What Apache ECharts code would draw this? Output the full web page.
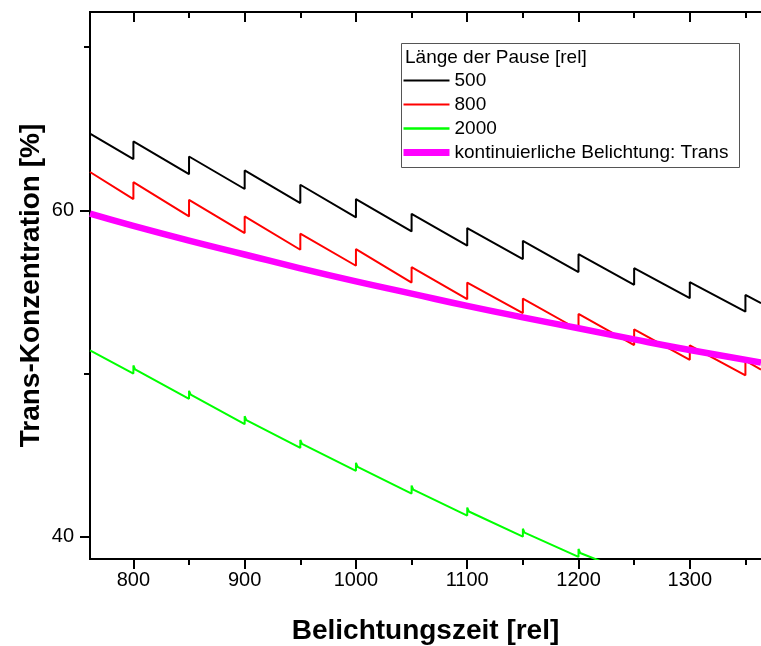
<!DOCTYPE html>
<html><head><meta charset="utf-8">
<script src="https://cdn.jsdelivr.net/npm/echarts@6/dist/echarts.min.js"></script>
<style>html,body{margin:0;padding:0;background:#fff}#c{width:761px;height:646px}</style>
</head><body><div id="c"></div>
<script>
// ---- data ----
const xStart = 761, xEnd = 1364;
const xMajorTicks = [800, 900, 1000, 1100, 1200, 1300];
const xMinorTicks = [850, 950, 1050, 1150, 1250, 1350];
const yMajorTicks = [40, 60];
const yMinorTicks = [50, 70];
const pauseX = [800, 850, 900, 950, 1000, 1050, 1100, 1150, 1200, 1250, 1300, 1350];

const black500Start = 64.70;
const black500Before = [63.14, 62.22, 61.31, 60.45, 59.57, 58.71, 57.84, 57.02, 56.22, 55.44, 54.62, 53.80];
const black500After  = [64.22, 63.30, 62.45, 61.57, 60.69, 59.79, 58.92, 58.14, 57.32, 56.46, 55.60, 54.82];
const black500End = 54.32;

const red800Start = 62.35;
const red800Before = [60.69, 59.63, 58.61, 57.59, 56.61, 55.58, 54.56, 53.71, 52.69, 51.75, 50.85, 49.90];
const red800After  = [61.73, 60.65, 59.63, 58.57, 57.63, 56.52, 55.58, 54.60, 53.66, 52.72, 51.74, 50.80];
const red800End = 50.25;

const green2000Start = 51.42;
const green2000X      = [800, 850, 900, 950, 1000, 1050, 1100, 1150, 1200];
const green2000Before = [50.01, 48.46, 46.91, 45.45, 44.05, 42.66, 41.31, 40.02, 38.78];
const green2000Peak   = [50.50, 48.95, 47.40, 45.94, 44.54, 43.15, 41.80, 40.51, 39.27];
const green2000After  = [50.26, 48.71, 47.15, 45.70, 44.29, 42.90, 41.56, 40.27, 39.02];
const green2000EndX = 1250, green2000End = 37.70;

const contX = [761, 800, 850, 900, 950, 1000, 1050, 1100, 1150, 1200, 1250, 1300, 1364];
const contY = [59.80, 59.05, 58.15, 57.30, 56.45, 55.65, 54.90, 54.15, 53.45, 52.78, 52.10, 51.45, 50.68];

const seriesNames = ['500', '800', '2000', 'kontinuierliche Belichtung: Trans'];
const legendTitle = 'Länge der Pause [rel]';
const xTitle = 'Belichtungszeit [rel]';
const yTitle = 'Trans-Konzentration [%]';

// ---- build series point lists ----
function sawtooth(start, before, after, end) {
  const pts = [[xStart, start]];
  pauseX.forEach((x, i) => { pts.push([x, before[i]]); pts.push([x, after[i]]); });
  pts.push([xEnd, end]);
  return pts;
}
const blackData = sawtooth(black500Start, black500Before, black500After, black500End);
const redData = sawtooth(red800Start, red800Before, red800After, red800End);
const greenData = [[xStart, green2000Start]];
green2000X.forEach((x, i) => {
  greenData.push([x, green2000Before[i]]);
  greenData.push([x, green2000Peak[i]]);
  greenData.push([x + 1.5, green2000After[i]]);
});
greenData.push([green2000EndX, green2000End]);
const contData = contX.map((x, i) => [x, contY[i]]);

const FONT = 'Liberation Sans, Arial, sans-serif';
const axisLine = { show: true, lineStyle: { color: '#000', width: 2 } };
const plain = v => String(v);

function xAx(pos, ticks, len, inside, labels, extra) {
  return Object.assign({
    type: 'value', position: pos, min: xStart, max: xEnd,
    axisLine: axisLine,
    axisTick: { show: true, inside: inside, length: len, customValues: ticks, lineStyle: { color: '#000', width: 2 } },
    axisLabel: labels ? { show: true, customValues: ticks, formatter: plain, fontSize: 20, color: '#000', fontFamily: FONT, margin: 11 } : { show: false },
    splitLine: { show: false }
  }, extra || {});
}
function yAx(ticks, len, labels, extra) {
  return Object.assign({
    type: 'value', position: 'left', min: 38.65, max: 72.15,
    axisLine: axisLine,
    axisTick: { show: true, inside: false, length: len, customValues: ticks, lineStyle: { color: '#000', width: 2 } },
    axisLabel: labels ? { show: true, customValues: ticks, formatter: plain, fontSize: 20, color: '#000', fontFamily: FONT, margin: 16 } : { show: false },
    splitLine: { show: false }
  }, extra || {});
}

const legendLines = [
  { name: seriesNames[0], lineStyle: { color: '#000', width: 2 } },
  { name: seriesNames[1], lineStyle: { color: '#ff0000', width: 2 } },
  { name: seriesNames[2], lineStyle: { color: '#00ff00', width: 2.5 } },
  { name: seriesNames[3], lineStyle: { color: '#ff00ff', width: 7 } }
];

const chart = echarts.init(document.getElementById('c'), null, { renderer: 'canvas' });
chart.setOption({
  animation: false,
  backgroundColor: '#fff',
  grid: { left: 90, right: 0, top: 12, bottom: 87, containLabel: false, outerBoundsMode: 'none' },
  xAxis: [
    xAx('bottom', xMajorTicks, 10, false, true, {
      name: xTitle, nameLocation: 'middle', nameGap: 58, nameMoveOverlap: false,
      nameTextStyle: { fontSize: 28, fontWeight: 'bold', color: '#000', fontFamily: FONT }
    }),
    xAx('bottom', xMinorTicks, 6, false, false),
    xAx('top', xMajorTicks, 10, true, false),
    xAx('top', xMinorTicks, 6, true, false)
  ],
  yAxis: [
    yAx(yMajorTicks, 10, true, {
      name: yTitle, nameLocation: 'middle', nameGap: 45, nameRotate: 90, nameMoveOverlap: false,
      nameTextStyle: { fontSize: 28, fontWeight: 'bold', color: '#000', fontFamily: FONT }
    }),
    yAx(yMinorTicks, 6, false)
  ],
  legend: {
    data: legendLines,
    orient: 'vertical', left: 400, top: 71, padding: 0,
    itemWidth: 46, itemHeight: 14, itemGap: 5,
    itemStyle: { color: 'rgba(0,0,0,0)', borderWidth: 0, opacity: 0 },
    textStyle: { fontSize: 19, lineHeight: 19, color: '#000', fontFamily: FONT },
    selectedMode: false
  },
  graphic: [
    { type: 'rect', left: 401, top: 43, shape: { width: 338, height: 124 },
      style: { fill: '#fff', stroke: '#555', lineWidth: 1 }, z: -1, silent: true },
    { type: 'text', left: 405, top: 48,
      style: { text: legendTitle, fontSize: 19, fill: '#000', fontFamily: FONT } }
  ],
  series: [
    { name: seriesNames[0], type: 'line', data: blackData, symbol: 'none', lineStyle: { color: '#000', width: 2 }, itemStyle: { color: '#000' } },
    { name: seriesNames[1], type: 'line', data: redData, symbol: 'none', lineStyle: { color: '#ff0000', width: 2 }, itemStyle: { color: '#ff0000' } },
    { name: seriesNames[2], type: 'line', data: greenData, symbol: 'none', lineStyle: { color: '#00ff00', width: 2 }, itemStyle: { color: '#00ff00' } },
    { name: seriesNames[3], type: 'line', data: contData, symbol: 'none', smooth: true, lineStyle: { color: '#ff00ff', width: 6.5 }, itemStyle: { color: '#ff00ff' } }
  ]
});
</script></body></html>
